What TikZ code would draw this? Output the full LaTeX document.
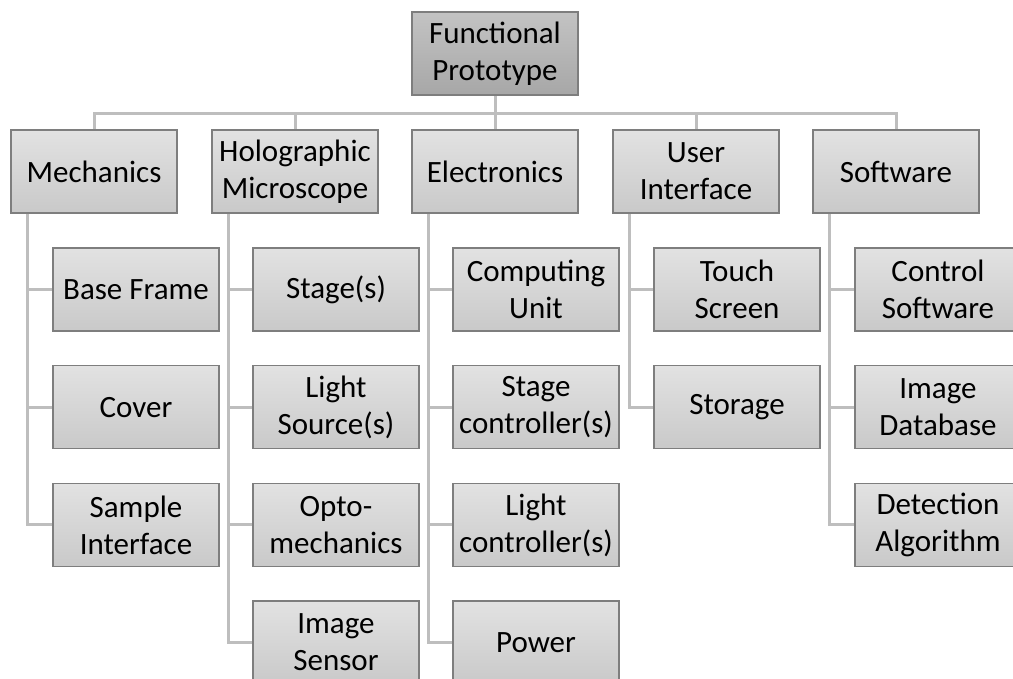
\documentclass[tikz,border=0pt]{standalone}
\usepackage{fontspec}
\setmainfont{Carlito}
\usetikzlibrary{backgrounds}
\begin{document}
\begin{tikzpicture}[x=1pt,y=-1pt,
  box/.style={draw=boxline, line width=1.4pt, minimum width=166pt, minimum height=83pt,
    inner sep=0pt, align=center, font=\fontsize{31}{37}\selectfont,
    top color=lighttop, bottom color=lightbot},
  rootbox/.style={box, top color=darktop, bottom color=darkbot},
  conn/.style={draw=connline, line width=3pt}]
\definecolor{boxline}{HTML}{7E7E7E}
\definecolor{connline}{HTML}{BEBEBE}
\definecolor{lighttop}{HTML}{E2E2E2}
\definecolor{lightbot}{HTML}{C9C9C9}
\definecolor{darktop}{HTML}{C3C3C3}
\definecolor{darkbot}{HTML}{A7A7A7}

\useasboundingbox (0,0) rectangle (1013,679);
\clip (0,0) rectangle (1013,679);

% top level
\node[rootbox] (root) at (495,53.5) {Functional\\Prototype};

% first level
\node[box] (mech) at (94,171.5)  {Mechanics};
\node[box] (holo) at (295,171.5) {Holographic\\Microscope};
\node[box] (elec) at (495,171.5) {Electronics};
\node[box] (ui)   at (696,171.5) {User\\Interface};
\node[box] (soft) at (896,171.5) {Software};

% second level
\node[box] (m1) at (136,289.5) {Base Frame};
\node[box] (m2) at (136,407.2) {Cover};
\node[box] (m3) at (136,524.9) {Sample\\Interface};

\node[box] (h1) at (336,289.5) {Stage(s)};
\node[box] (h2) at (336,407.2) {Light\\Source(s)};
\node[box] (h3) at (336,524.9) {Opto-\\mechanics};
\node[box] (h4) at (336,642.6) {Image\\Sensor};

\node[box] (e1) at (536,289.5) {Computing\\Unit};
\node[box] (e2) at (536,407.2) {Stage\\controller(s)};
\node[box] (e3) at (536,524.9) {Light\\controller(s)};
\node[box] (e4) at (536,642.6) {Power};

\node[box] (u1) at (737,289.5) {Touch\\Screen};
\node[box] (u2) at (737,407.2) {Storage};

\node[box] (s1) at (938,289.5) {Control\\Software};
\node[box] (s2) at (938,407.2) {Image\\Database};
\node[box] (s3) at (938,524.9) {Detection\\Algorithm};

% connectors, kept behind the boxes
\begin{pgfonlayer}{background}
\foreach \c in {mech,holo,elec,ui,soft}
  \draw[conn] (root.south) -- ++(0,18) -| (\c.north);
\foreach \p/\c in {mech/m1,mech/m2,mech/m3,
                   holo/h1,holo/h2,holo/h3,holo/h4,
                   elec/e1,elec/e2,elec/e3,elec/e4,
                   ui/u1,ui/u2,
                   soft/s1,soft/s2,soft/s3}
  \draw[conn] ([xshift=17pt]\p.south west) |- (\c.west);
\end{pgfonlayer}
\end{tikzpicture}
\end{document}
